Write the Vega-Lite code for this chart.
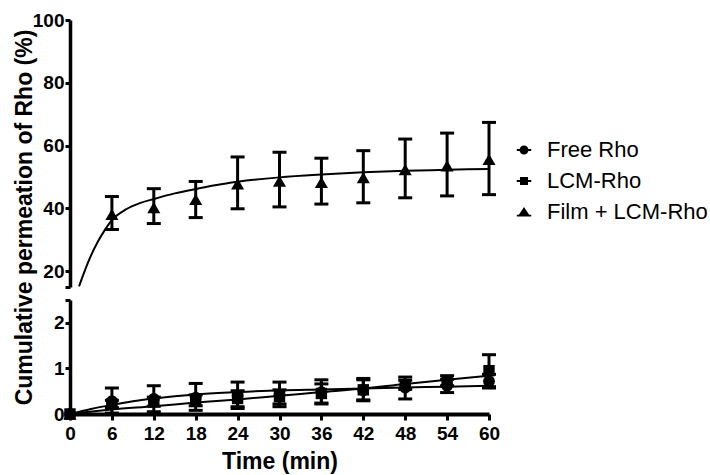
{
  "$schema": "https://vega.github.io/schema/vega-lite/v6.json",
  "padding": {"left": 13, "top": 11, "right": 5, "bottom": 5},
  "background": "white",
  "config": {
    "view": {"stroke": null},
    "font": "Liberation Sans",
    "axis": {
      "domainColor": "black", "domainWidth": 3.5, "tickColor": "black", "tickWidth": 3, "tickSize": 5,
      "labelColor": "black", "labelFont": "Liberation Sans", "labelFontSize": 19, "labelFontWeight": "bold",
      "titleColor": "black", "titleFont": "Liberation Sans", "titleFontSize": 23, "titleFontWeight": "bold",
      "grid": false, "labelOverlap": false, "labelFlush": false, "tickCount": 30
    },
    "legend": {"labelFont": "Liberation Sans", "labelFontSize": 22, "labelColor": "black", "labelLimit": 400}
  },
  "datasets": {
    "pts": [
      {"series": "Film + LCM-Rho", "time": 6, "mean": 38.1, "lo": 33.3, "hi": 43.8},
      {"series": "Film + LCM-Rho", "time": 12, "mean": 40.3, "lo": 35.2, "hi": 46.3},
      {"series": "Film + LCM-Rho", "time": 18, "mean": 42.9, "lo": 37.1, "hi": 48.6},
      {"series": "Film + LCM-Rho", "time": 24, "mean": 47.8, "lo": 39.9, "hi": 56.4},
      {"series": "Film + LCM-Rho", "time": 30, "mean": 48.7, "lo": 40.5, "hi": 57.9},
      {"series": "Film + LCM-Rho", "time": 36, "mean": 48.3, "lo": 41.4, "hi": 56.0},
      {"series": "Film + LCM-Rho", "time": 42, "mean": 49.8, "lo": 41.8, "hi": 58.4},
      {"series": "Film + LCM-Rho", "time": 48, "mean": 52.4, "lo": 43.4, "hi": 62.1},
      {"series": "Film + LCM-Rho", "time": 54, "mean": 53.6, "lo": 44.0, "hi": 64.0},
      {"series": "Film + LCM-Rho", "time": 60, "mean": 55.6, "lo": 44.4, "hi": 67.4}
    ],
    "low": [
      {"series": "Film + LCM-Rho", "time": 0, "mean": 0, "lo": 0, "hi": 0},
      {"series": "Free Rho", "time": 0, "mean": 0, "lo": 0, "hi": 0},
      {"series": "Free Rho", "time": 6, "mean": 0.28, "lo": 0.02, "hi": 0.57},
      {"series": "Free Rho", "time": 12, "mean": 0.33, "lo": 0.05, "hi": 0.62},
      {"series": "Free Rho", "time": 18, "mean": 0.36, "lo": 0.08, "hi": 0.67},
      {"series": "Free Rho", "time": 24, "mean": 0.40, "lo": 0.12, "hi": 0.70},
      {"series": "Free Rho", "time": 30, "mean": 0.42, "lo": 0.16, "hi": 0.70},
      {"series": "Free Rho", "time": 36, "mean": 0.48, "lo": 0.22, "hi": 0.75},
      {"series": "Free Rho", "time": 42, "mean": 0.52, "lo": 0.29, "hi": 0.78},
      {"series": "Free Rho", "time": 48, "mean": 0.58, "lo": 0.33, "hi": 0.81},
      {"series": "Free Rho", "time": 54, "mean": 0.62, "lo": 0.47, "hi": 0.76},
      {"series": "Free Rho", "time": 60, "mean": 0.72, "lo": 0.57, "hi": 0.87},
      {"series": "LCM-Rho", "time": 0, "mean": 0, "lo": 0, "hi": 0},
      {"series": "LCM-Rho", "time": 6, "mean": 0.22, "lo": 0.14, "hi": 0.30},
      {"series": "LCM-Rho", "time": 12, "mean": 0.27, "lo": 0.17, "hi": 0.37},
      {"series": "LCM-Rho", "time": 18, "mean": 0.30, "lo": 0.18, "hi": 0.42},
      {"series": "LCM-Rho", "time": 24, "mean": 0.34, "lo": 0.16, "hi": 0.51},
      {"series": "LCM-Rho", "time": 30, "mean": 0.38, "lo": 0.22, "hi": 0.53},
      {"series": "LCM-Rho", "time": 36, "mean": 0.45, "lo": 0.24, "hi": 0.66},
      {"series": "LCM-Rho", "time": 42, "mean": 0.53, "lo": 0.31, "hi": 0.75},
      {"series": "LCM-Rho", "time": 48, "mean": 0.64, "lo": 0.54, "hi": 0.74},
      {"series": "LCM-Rho", "time": 54, "mean": 0.72, "lo": 0.62, "hi": 0.84},
      {"series": "LCM-Rho", "time": 60, "mean": 0.95, "lo": 0.60, "hi": 1.30}
    ],
    "fitUp": [
      {"time": 1.3, "value": 15.2}, {"time": 2, "value": 19.5}, {"time": 3, "value": 25.0},
      {"time": 4, "value": 29.5}, {"time": 5, "value": 33.2}, {"time": 6, "value": 36.3},
      {"time": 8, "value": 39.7}, {"time": 10, "value": 41.7}, {"time": 12, "value": 43.0},
      {"time": 15, "value": 44.8}, {"time": 18, "value": 46.2}, {"time": 21, "value": 47.5},
      {"time": 24, "value": 48.5}, {"time": 30, "value": 49.9}, {"time": 36, "value": 50.8},
      {"time": 42, "value": 51.5}, {"time": 48, "value": 52.0}, {"time": 54, "value": 52.3},
      {"time": 60, "value": 52.6}
    ],
    "fitLow": [
      {"series": "Free Rho", "time": 0, "value": 0}, {"series": "Free Rho", "time": 3, "value": 0.11},
      {"series": "Free Rho", "time": 6, "value": 0.20}, {"series": "Free Rho", "time": 9, "value": 0.28},
      {"series": "Free Rho", "time": 12, "value": 0.34}, {"series": "Free Rho", "time": 18, "value": 0.43},
      {"series": "Free Rho", "time": 24, "value": 0.48}, {"series": "Free Rho", "time": 30, "value": 0.52},
      {"series": "Free Rho", "time": 36, "value": 0.54}, {"series": "Free Rho", "time": 42, "value": 0.56},
      {"series": "Free Rho", "time": 48, "value": 0.58}, {"series": "Free Rho", "time": 54, "value": 0.60},
      {"series": "Free Rho", "time": 60, "value": 0.62},
      {"series": "LCM-Rho", "time": 0, "value": 0}, {"series": "LCM-Rho", "time": 6, "value": 0.10},
      {"series": "LCM-Rho", "time": 12, "value": 0.17}, {"series": "LCM-Rho", "time": 18, "value": 0.25},
      {"series": "LCM-Rho", "time": 24, "value": 0.32}, {"series": "LCM-Rho", "time": 30, "value": 0.40},
      {"series": "LCM-Rho", "time": 36, "value": 0.48}, {"series": "LCM-Rho", "time": 42, "value": 0.56},
      {"series": "LCM-Rho", "time": 48, "value": 0.66}, {"series": "LCM-Rho", "time": 54, "value": 0.75},
      {"series": "LCM-Rho", "time": 60, "value": 0.84}
    ]
  },
  "vconcat": [
    {
      "width": 419, "height": 267,
      "layer": [
        {
          "data": {"name": "fitUp"},
          "mark": {"type": "line", "color": "black", "strokeWidth": 2, "interpolate": "monotone", "clip": true},
          "encoding": {
            "x": {"field": "time", "type": "quantitative", "scale": {"domain": [0, 60]}, "axis": null},
            "y": {"field": "value", "type": "quantitative", "scale": {"domain": [15, 100], "nice": false},
              "axis": {"values": [15, 20, 40, 60, 80, 100], "tickCount": 20, "labelExpr": "datum.value == 15 ? '' : format(datum.value, 'd')",
                "labelPadding": 1, "title": "Cumulative permeation of Rho (%)", "titleX": -39, "titleY": 197,
                "titleAngle": -90, "titleBaseline": "alphabetic", "titleAlign": "center"}}
          }
        },
        {
          "data": {"name": "pts"},
          "mark": {"type": "rule", "color": "black", "strokeWidth": 3},
          "encoding": {
            "x": {"field": "time", "type": "quantitative"},
            "y": {"field": "lo", "type": "quantitative"},
            "y2": {"field": "hi"}
          }
        },
        {
          "data": {"name": "pts"},
          "mark": {"type": "tick", "color": "black", "orient": "horizontal", "size": 14, "thickness": 3, "opacity": 1},
          "encoding": {
            "x": {"field": "time", "type": "quantitative"},
            "y": {"field": "lo", "type": "quantitative"}
          }
        },
        {
          "data": {"name": "pts"},
          "mark": {"type": "tick", "color": "black", "orient": "horizontal", "size": 14, "thickness": 3, "opacity": 1},
          "encoding": {
            "x": {"field": "time", "type": "quantitative"},
            "y": {"field": "hi", "type": "quantitative"}
          }
        },
        {
          "data": {"name": "pts"},
          "mark": {"type": "point", "shape": "triangle-up", "filled": true, "color": "black", "opacity": 1, "size": 170},
          "encoding": {
            "x": {"field": "time", "type": "quantitative"},
            "y": {"field": "mean", "type": "quantitative"}
          }
        },
        {
          "data": {"name": "pts"},
          "mark": {"type": "point", "filled": true, "color": "black", "opacity": 0},
          "encoding": {
            "x": {"field": "time", "type": "quantitative"},
            "y": {"field": "mean", "type": "quantitative"},
            "shape": {"field": "series", "type": "nominal",
              "scale": {"domain": ["Free Rho", "LCM-Rho", "Film + LCM-Rho"],
                "range": [
                  "M-1,-0.13L1,-0.13L1,0.13L-1,0.13ZM0.62,0A0.62,0.62,0,1,1,-0.62,0A0.62,0.62,0,1,1,0.62,0Z",
                  "M-1,-0.13L1,-0.13L1,0.13L-1,0.13ZM-0.55,-0.55L0.55,-0.55L0.55,0.55L-0.55,0.55Z",
                  "M-1,0.37L1,0.37L1,0.63L-1,0.63ZM0,-0.7L0.85,0.6L-0.85,0.6Z"]},
              "legend": {"title": null, "orient": "none", "legendX": 443, "legendY": 119, "symbolSize": 210,
                "symbolFillColor": "black", "symbolStrokeColor": "black", "symbolStrokeWidth": 0, "symbolOpacity": 1,
                "labelOffset": 12, "rowPadding": 9, "labelLimit": 400}}
          }
        }
      ]
    },
    {
      "width": 419, "height": 114,
      "layer": [
        {
          "data": {"name": "fitLow"},
          "mark": {"type": "line", "color": "black", "strokeWidth": 2, "interpolate": "monotone"},
          "encoding": {
            "x": {"field": "time", "type": "quantitative", "scale": {"domain": [0, 60]},
              "axis": {"values": [0, 6, 12, 18, 24, 30, 36, 42, 48, 54, 60], "tickCount": 20, "labelExpr": "format(datum.value, 'd')", "tickSize": 6, "labelPadding": 4,
                "title": "Time (min)", "titlePadding": 7, "domainWidth": 4}},
            "y": {"field": "value", "type": "quantitative", "scale": {"domain": [0, 2.5], "nice": false},
              "axis": {"values": [0, 1, 2, 2.5], "tickCount": 10, "labelExpr": "datum.value == 2.5 ? '' : format(datum.value, 'd')", "labelPadding": 1, "title": null}},
            "detail": {"field": "series"}
          }
        },
        {
          "data": {"name": "low"},
          "mark": {"type": "rule", "color": "black", "strokeWidth": 3},
          "encoding": {
            "x": {"field": "time", "type": "quantitative"},
            "y": {"field": "lo", "type": "quantitative"},
            "y2": {"field": "hi"}
          }
        },
        {
          "data": {"name": "low"},
          "transform": [{"filter": "datum.time > 0"}],
          "mark": {"type": "tick", "color": "black", "orient": "horizontal", "size": 14, "thickness": 3, "opacity": 1},
          "encoding": {
            "x": {"field": "time", "type": "quantitative"},
            "y": {"field": "lo", "type": "quantitative"}
          }
        },
        {
          "data": {"name": "low"},
          "transform": [{"filter": "datum.time > 0"}],
          "mark": {"type": "tick", "color": "black", "orient": "horizontal", "size": 14, "thickness": 3, "opacity": 1},
          "encoding": {
            "x": {"field": "time", "type": "quantitative"},
            "y": {"field": "hi", "type": "quantitative"}
          }
        },
        {
          "data": {"name": "low"},
          "transform": [{"filter": "datum.series == 'Free Rho'"}],
          "mark": {"type": "point", "shape": "circle", "filled": true, "color": "black", "opacity": 1, "size": 140, "clip": false},
          "encoding": {
            "x": {"field": "time", "type": "quantitative"},
            "y": {"field": "mean", "type": "quantitative"}
          }
        },
        {
          "data": {"name": "low"},
          "transform": [{"filter": "datum.series == 'LCM-Rho'"}],
          "mark": {"type": "point", "shape": "square", "filled": true, "color": "black", "opacity": 1, "size": 130, "clip": false},
          "encoding": {
            "x": {"field": "time", "type": "quantitative"},
            "y": {"field": "mean", "type": "quantitative"}
          }
        },
        {
          "data": {"name": "low"},
          "transform": [{"filter": "datum.series == 'Film + LCM-Rho'"}],
          "mark": {"type": "point", "shape": "triangle-up", "filled": true, "color": "black", "opacity": 1, "size": 170, "clip": false},
          "encoding": {
            "x": {"field": "time", "type": "quantitative"},
            "y": {"field": "mean", "type": "quantitative"}
          }
        }
      ]
    }
  ],
  "spacing": 13,
  "bounds": "flush",
  "resolve": {"scale": {"y": "independent"}}
}
